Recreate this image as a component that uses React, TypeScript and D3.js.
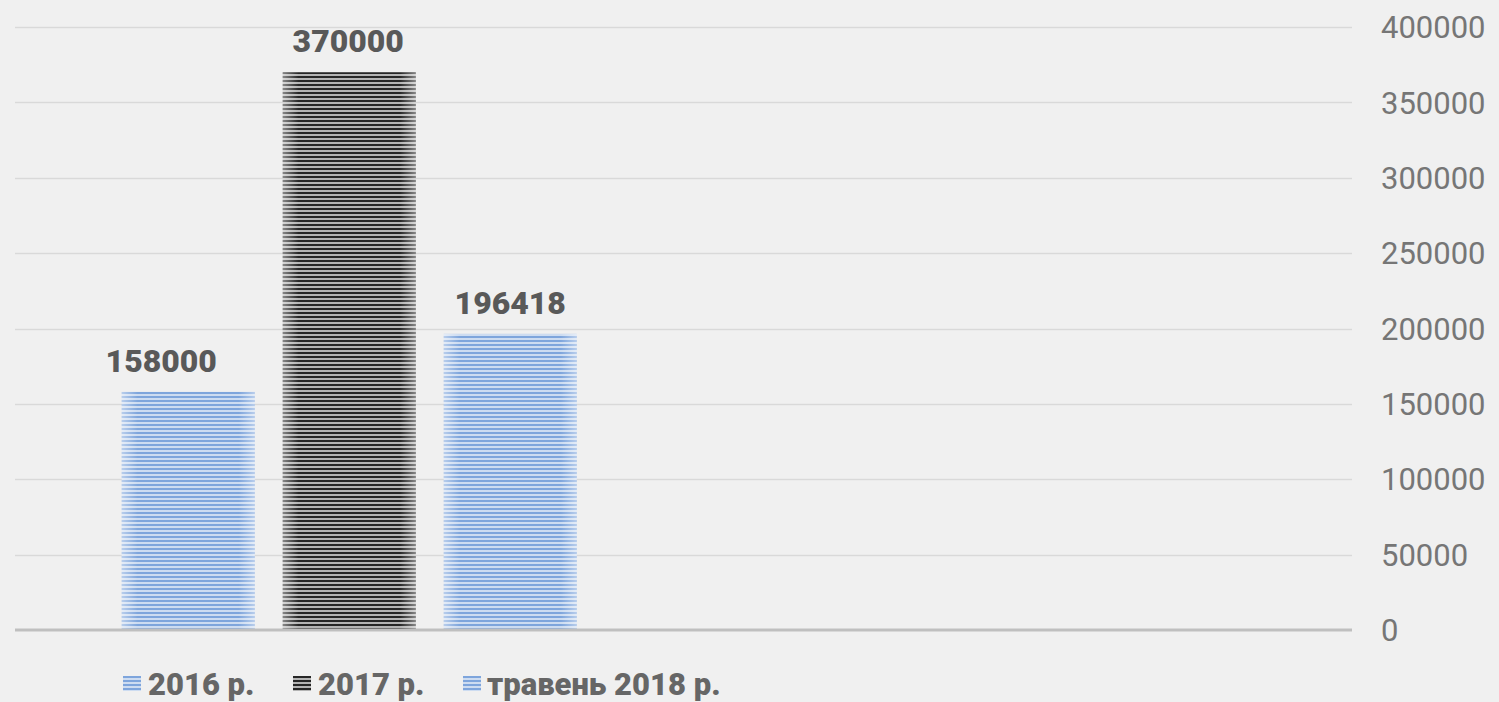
import React from 'react';
import * as d3 from 'd3';

const categories = ['group1', 'group2'];
const seriesNames = ['2016 р.', '2017 р.', 'травень 2018 р.'];
const seriesValues = [158000, 370000, 196418];
const seriesPatterns = ['stripeBlue', 'stripeBlack', 'stripeBlue'];
const labelShift = [-27, -1, 0];
const yTicks = [0, 50000, 100000, 150000, 200000, 250000, 300000, 350000, 400000];

const width = 1499;
const height = 702;
const plotLeft = 15;
const plotRight = 1352;
const plotTop = 27;
const plotBottom = 630;

const App = () => {
  const yScale = d3.scaleLinear().domain([0, 400000]).range([plotBottom, plotTop]);

  // two category slots, only the first one carries bars
  const xOuter = d3.scaleBand().domain(categories).range([plotLeft, plotRight]);
  const clusterWidth = 455;
  const clusterStart = (xOuter(categories[0]) as number) + (xOuter.bandwidth() - clusterWidth) / 2;
  const xInner = d3.scaleBand()
    .domain(seriesNames)
    .range([clusterStart, clusterStart + clusterWidth])
    .paddingInner(0.174);

  const font = 'Roboto, "DejaVu Sans", sans-serif';

  // legend marker x positions
  const legendX = [123, 293, 463];
  const legendTextX = [148, 318, 487];

  return (
    <svg
      width={width}
      height={height}
      style={{ position: 'absolute', left: 0, top: 0, background: '#f0f0f0' }}
    >
      <defs>
        <linearGradient id="edgeFade" x1="0" x2="1" y1="0" y2="0">
          <stop offset="0" stopColor="#ffffff" stopOpacity="0.45" />
          <stop offset="0.12" stopColor="#ffffff" stopOpacity="0" />
          <stop offset="0.88" stopColor="#ffffff" stopOpacity="0" />
          <stop offset="1" stopColor="#ffffff" stopOpacity="0.45" />
        </linearGradient>
        <pattern id="stripeBlue" width="8" height="4" patternUnits="userSpaceOnUse">
          <rect width="8" height="4" fill="#cddcf1" />
          <rect width="8" height="2" fill="#7ea5dc" />
        </pattern>
        <pattern id="stripeBlack" width="8" height="4" patternUnits="userSpaceOnUse">
          <rect width="8" height="4" fill="#b4b4b4" />
          <rect width="8" height="2" fill="#262626" />
        </pattern>
      </defs>
      <rect width={width} height={height} fill="#f0f0f0" />

      {/* gridlines */}
      {yTicks.filter(t => t > 0).map(t => (
        <line
          key={t}
          x1={plotLeft}
          x2={plotRight}
          y1={Math.round(yScale(t)) + 0.5}
          y2={Math.round(yScale(t)) + 0.5}
          stroke="#d9d9d9"
          strokeWidth={1.5}
        />
      ))}

      {/* tick labels on the right */}
      {yTicks.map(t => (
        <text
          key={'l' + t}
          x={1381}
          y={yScale(t)}
          dy="0.36em"
          fontFamily={font}
          fontSize={31}
          fill="#767676"
        >
          {t}
        </text>
      ))}

      {/* bars */}
      {seriesNames.map((s, i) => {
        const x = xInner(s) as number;
        const y = yScale(seriesValues[i]);
        const w = xInner.bandwidth();
        return (
          <g key={s}>
            <rect x={x} y={y} width={w} height={plotBottom - y} fill={`url(#${seriesPatterns[i]})`} />
            <rect x={x} y={y} width={w} height={plotBottom - y} fill="url(#edgeFade)" />
            <text
              x={x + w / 2 + labelShift[i]}
              y={y - 20}
              textAnchor="middle"
              fontFamily={font}
              fontWeight={900}
              fontSize={32}
              fill="#595959"
            >
              {seriesValues[i]}
            </text>
          </g>
        );
      })}

      {/* baseline */}
      <line x1={plotLeft} x2={plotRight} y1={plotBottom} y2={plotBottom} stroke="#bfbfbf" strokeWidth={3} />

      {/* legend */}
      {seriesNames.map((s, i) => (
        <g key={'lg' + s}>
          <rect x={legendX[i]} y={676} width={18} height={15} fill={`url(#${seriesPatterns[i]})`} />
          <text
            x={legendTextX[i]}
            y={695}
            fontFamily={font}
            fontWeight={900}
            fontSize={31}
            fill="#666666"
          >
            {s}
          </text>
        </g>
      ))}
    </svg>
  );
};

export default App;
